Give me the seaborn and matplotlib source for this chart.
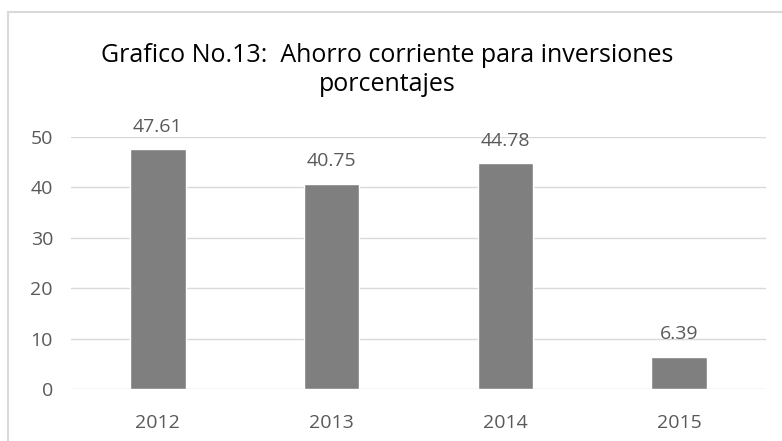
import matplotlib
matplotlib.use("Agg")
import matplotlib.pyplot as plt
import seaborn as sns
import pandas as pd
from matplotlib.patches import Rectangle

years = ["2012", "2013", "2014", "2015"]
values = [47.61, 40.75, 44.78, 6.39]
labels = ["47.61", "40.75", "44.78", "6.39"]
yticks = [0, 10, 20, 30, 40, 50]

sns.set_theme(style="white")
plt.rcParams['font.family'] = ['Open Sans', 'DejaVu Sans']

df = pd.DataFrame({"year": years, "value": values})

fig = plt.figure(figsize=(7.82, 4.41), dpi=100)
fig.patch.set_facecolor("white")
fig.patches.append(Rectangle((8/782, -0.1), 1.1, (441-12)/441 + 0.1, transform=fig.transFigure,
                             fill=False, edgecolor="#d9d9d9", linewidth=1.5))

ax = fig.add_axes([71/782, 52/441, 695/782, 252/441])
sns.barplot(data=df, x="year", y="value", color="#7f7f7f", width=0.32, ax=ax,
            saturation=1, zorder=3)
ax.set_ylim(0, 50)
ax.set_yticks(yticks)
ax.set_yticklabels([str(t) for t in yticks])
ax.grid(axis="y", color="#d9d9d9", linewidth=1, zorder=0)
ax.set_axisbelow(True)
for s in ["top", "right", "left", "bottom"]:
    ax.spines[s].set_visible(False)
ax.set_xlabel("")
ax.set_ylabel("")
ax.tick_params(axis="x", length=0, pad=18, labelsize=14, labelcolor="#595959")
ax.tick_params(axis="y", length=0, pad=13, labelsize=14, labelcolor="#595959")

for i, (v, lab) in enumerate(zip(values, labels)):
    ax.annotate(lab, (i, v), xytext=(0, 12.5), textcoords="offset points",
                ha="center", va="baseline", fontsize=14, color="#595959")

fig.text(387/782, 1 - 62/441, "Grafico No.13:  Ahorro corriente para inversiones",
         ha="center", va="baseline", fontsize=18, color="#000000")
fig.text(387/782, 1 - 91/441, "porcentajes",
         ha="center", va="baseline", fontsize=18, color="#000000")

fig.savefig("out.png", dpi=100, facecolor="white")
